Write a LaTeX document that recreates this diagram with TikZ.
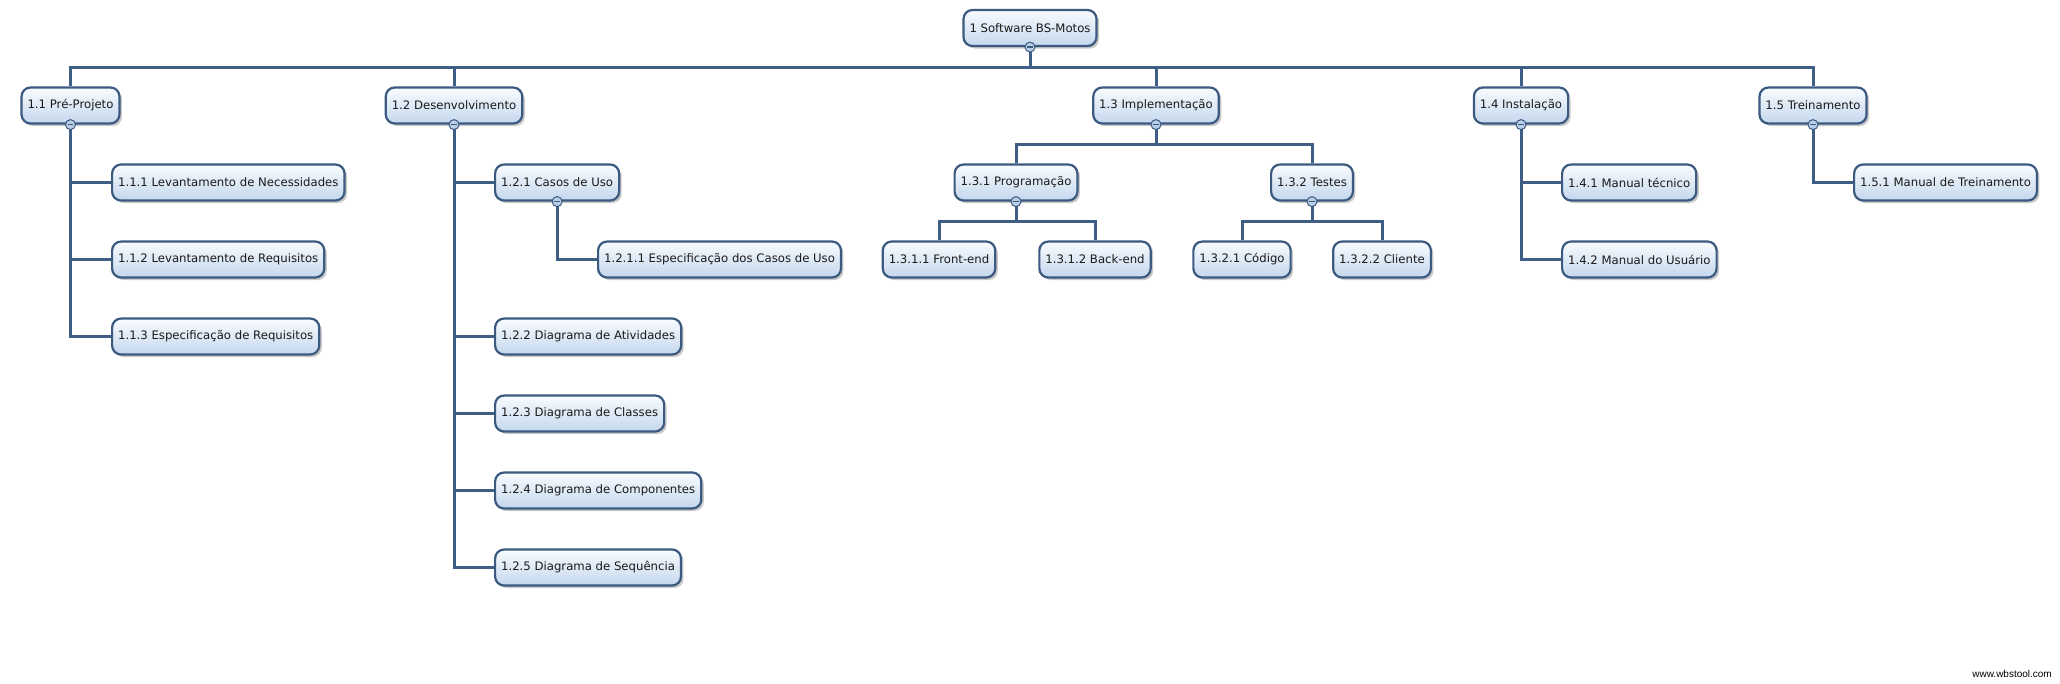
\documentclass[tikz,border=0pt]{standalone}
\usepackage{fontspec}
\setmainfont{DejaVu Sans}
\newfontfamily\wmfont{Liberation Sans}
\usetikzlibrary{shadows,backgrounds,calc}
\definecolor{bordc}{HTML}{3C5A80}
\definecolor{linec}{HTML}{3F5E85}
\definecolor{filltop}{HTML}{F8FBFE}
\definecolor{fillbot}{HTML}{C4D8EE}
\definecolor{circfill}{HTML}{B9CEE7}
\definecolor{txtc}{HTML}{1A1A1A}
\tikzset{
  wbs/.style={draw=bordc, line width=2.2pt, rounded corners=9pt,
    top color=filltop, bottom color=fillbot, minimum height=36pt,
    inner xsep=6pt, text=txtc, font=\fontsize{11.7}{14}\selectfont,
    drop shadow={shadow xshift=2.5pt, shadow yshift=-2.5pt, opacity=0.35, fill=black!60}},
  conn/.style={draw=linec, line width=3pt},
  collapse/.style={circle, draw=bordc, fill=circfill, line width=1pt, minimum size=10pt, inner sep=0pt,
    path picture={\draw[bordc, line width=1.3pt] ([xshift=-2.8pt]path picture bounding box.center) -- ([xshift=2.8pt]path picture bounding box.center);}}
}
\begin{document}
\begin{tikzpicture}[x=1pt,y=-1pt]
\useasboundingbox (0,0) rectangle (2060,683);
% level 0
\node[wbs] (root) at (1030,28) {1 Software BS-Motos};
% level 1
\node[wbs] (n11) at (70.5,105.5) {1.1 Pré-Projeto};
\node[wbs] (n12) at (454,105.5) {1.2 Desenvolvimento};
\node[wbs] (n13) at (1156,105.5) {1.3 Implementação};
\node[wbs] (n14) at (1521,105.5) {1.4 Instalação};
\node[wbs] (n15) at (1813,105.5) {1.5 Treinamento};
% 1.1
\node[wbs,anchor=west] (n111) at (111,182.5) {1.1.1 Levantamento de Necessidades};
\node[wbs,anchor=west] (n112) at (111,259.5) {1.1.2 Levantamento de Requisitos};
\node[wbs,anchor=west] (n113) at (111,336.5) {1.1.3 Especificação de Requisitos};
% 1.2
\node[wbs,anchor=west] (n121) at (494,182.5) {1.2.1 Casos de Uso};
\node[wbs,anchor=west] (n1211) at (597,259.5) {1.2.1.1 Especificação dos Casos de Uso};
\node[wbs,anchor=west] (n122) at (494,336.5) {1.2.2 Diagrama de Atividades};
\node[wbs,anchor=west] (n123) at (494,413.5) {1.2.3 Diagrama de Classes};
\node[wbs,anchor=west] (n124) at (494,490.5) {1.2.4 Diagrama de Componentes};
\node[wbs,anchor=west] (n125) at (494,567.5) {1.2.5 Diagrama de Sequência};
% 1.3
\node[wbs] (n131) at (1016,182.5) {1.3.1 Programação};
\node[wbs] (n132) at (1312,182.5) {1.3.2 Testes};
\node[wbs] (n1311) at (939,259.5) {1.3.1.1 Front-end};
\node[wbs] (n1312) at (1095,259.5) {1.3.1.2 Back-end};
\node[wbs] (n1321) at (1242,259.5) {1.3.2.1 Código};
\node[wbs] (n1322) at (1382,259.5) {1.3.2.2 Cliente};
% 1.4
\node[wbs,anchor=west] (n141) at (1561,182.5) {1.4.1 Manual técnico};
\node[wbs,anchor=west] (n142) at (1561,259.5) {1.4.2 Manual do Usuário};
% 1.5
\node[wbs,anchor=west] (n151) at (1853,182.5) {1.5.1 Manual de Treinamento};
% collapse markers
\foreach \p in {root,n11,n12,n13,n14,n15,n121,n131,n132}
  \node[collapse] (c\p) at (\p.south) {};
% watermark
\node[font=\wmfont\fontsize{10}{12}\selectfont, anchor=east, inner sep=0pt] (wm) at (2052,674) {www.wbstool.com};
% connectors
\begin{scope}[on background layer]
\fill[white] (0,0) rectangle (2060,683);
\coordinate (bus) at (0,67);
\draw[conn] (n11.north) |- (n15.north |- bus) -- (n15.north);
\foreach \n in {root.south,n12.north,n13.north,n14.north}
  \draw[conn] (\n) -- (\n |- bus);
\foreach \c in {n111,n112,n113}
  \draw[conn] (n11.south) |- (\c.west);
\foreach \c in {n121,n122,n123,n124,n125}
  \draw[conn] (n12.south) |- (\c.west);
\draw[conn] (cn121.center) |- (n1211.west);
\foreach \c in {n131,n132}
  \draw[conn] (n13.south) -- ++(0,20) -| (\c.north);
\foreach \c in {n1311,n1312}
  \draw[conn] (n131.south) -- ++(0,20) -| (\c.north);
\foreach \c in {n1321,n1322}
  \draw[conn] (n132.south) -- ++(0,20) -| (\c.north);
\foreach \c in {n141,n142}
  \draw[conn] (n14.south) |- (\c.west);
\draw[conn] (n15.south) |- (n151.west);
\end{scope}
\end{tikzpicture}
\end{document}
